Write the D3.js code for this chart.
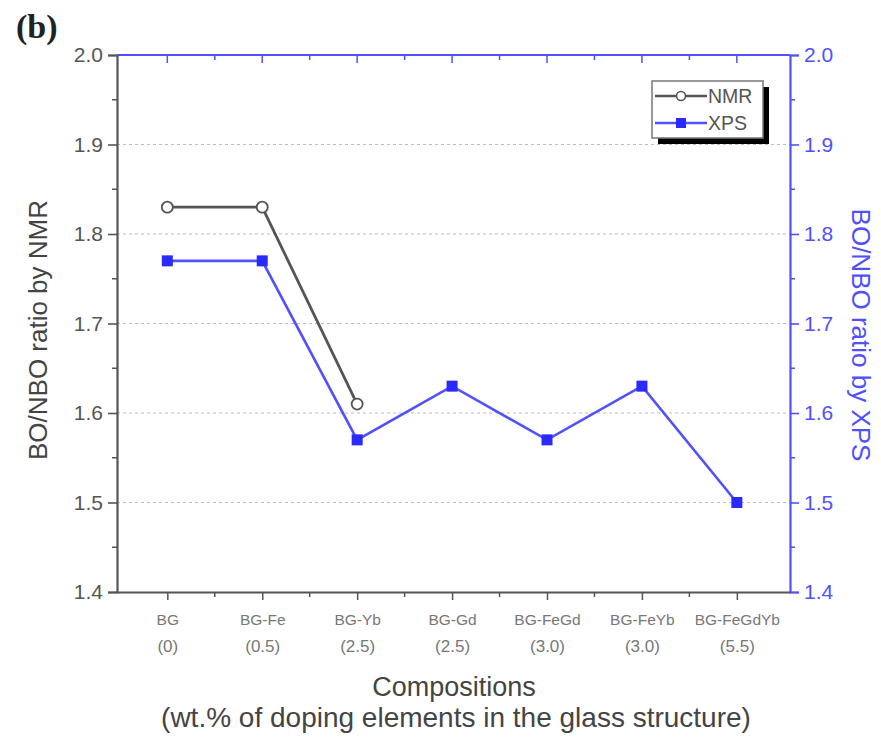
<!DOCTYPE html>
<html>
<head>
<meta charset="utf-8">
<script src="https://cdn.jsdelivr.net/npm/d3@7"></script>
<style>
  html, body { margin: 0; padding: 0; background: #fff; }
  svg { display: block; font-family: "Liberation Sans", Arial, sans-serif; }
</style>
</head>
<body>
<svg id="chart" width="881" height="740"></svg>
<script>
// Compositions and their doping content (wt.%)
const categories = ["BG", "BG-Fe", "BG-Yb", "BG-Gd", "BG-FeGd", "BG-FeYb", "BG-FeGdYb"];
const dopingLabels = ["(0)", "(0.5)", "(2.5)", "(2.5)", "(3.0)", "(3.0)", "(5.5)"];

// BO/NBO ratios
const nmrValues = [1.83, 1.83, 1.61];
const xpsValues = [1.77, 1.77, 1.57, 1.63, 1.57, 1.63, 1.50];

const yTicks = [1.4, 1.5, 1.6, 1.7, 1.8, 1.9, 2.0];
const gridValues = [1.5, 1.6, 1.7, 1.8, 1.9];

const grey = "#555";
const blue = "#5050ff";
const blueMark = "#2a2aff";

const svg = d3.select("#chart");
const plotL = 117, plotR = 790, plotT = 55, plotB = 592;

const x = d3.scaleLinear().domain([-0.53, 6.56]).range([plotL, plotR]);
const yL = d3.scaleLinear().domain([1.4, 2.0]).range([plotB, plotT]);
const yR = d3.scaleLinear().domain([1.4, 2.0]).range([plotB, plotT]);

// dotted grid
svg.append("g").selectAll("line").data(gridValues).join("line")
  .attr("x1", plotL).attr("x2", plotR)
  .attr("y1", d => yL(d)).attr("y2", d => yL(d))
  .attr("stroke", "#bbb").attr("stroke-width", 1.2)
  .attr("stroke-dasharray", "3,3");

const minorY = d3.range(1.45, 2.0, 0.1);
const majorX = d3.range(categories.length);
const minorX = d3.range(categories.length - 1).map(i => i + 0.5);

// left axis
const gL = svg.append("g").attr("transform", `translate(${plotL},0)`)
  .call(d3.axisLeft(yL).tickValues(yTicks).tickFormat(d3.format(".1f")).tickSize(9).tickPadding(5));
gL.select(".domain").attr("stroke", grey).attr("stroke-width", 2.2);
gL.selectAll(".tick line").attr("stroke", grey).attr("stroke-width", 1.6);
gL.selectAll(".tick text").attr("fill", "#555").attr("font-size", 21);
gL.append("g").selectAll("line").data(minorY).join("line")
  .attr("x1", -5).attr("x2", 0).attr("y1", d => yL(d)).attr("y2", d => yL(d))
  .attr("stroke", grey).attr("stroke-width", 1.5);

// right axis
const gR = svg.append("g").attr("transform", `translate(${plotR},0)`)
  .call(d3.axisRight(yR).tickValues(yTicks).tickFormat(d3.format(".1f")).tickSize(9).tickPadding(5));
gR.select(".domain").attr("stroke", blue).attr("stroke-width", 2.2);
gR.selectAll(".tick line").attr("stroke", blue).attr("stroke-width", 1.6);
gR.selectAll(".tick text").attr("fill", blue).attr("font-size", 21);
gR.append("g").selectAll("line").data(minorY).join("line")
  .attr("x1", 0).attr("x2", 5).attr("y1", d => yR(d)).attr("y2", d => yR(d))
  .attr("stroke", blue).attr("stroke-width", 1.5);

// top axis (blue, ticks pointing into the plot)
const gT = svg.append("g").attr("transform", `translate(0,${plotT})`);
gT.append("line").attr("x1", plotL).attr("x2", plotR).attr("y1", 0).attr("y2", 0)
  .attr("stroke", blue).attr("stroke-width", 2.2);
gT.selectAll(".maj").data(majorX).join("line").attr("class", "maj")
  .attr("x1", d => x(d)).attr("x2", d => x(d)).attr("y1", 0).attr("y2", 8)
  .attr("stroke", blue).attr("stroke-width", 1.5);
gT.selectAll(".min").data(minorX).join("line").attr("class", "min")
  .attr("x1", d => x(d)).attr("x2", d => x(d)).attr("y1", 0).attr("y2", 5)
  .attr("stroke", blue).attr("stroke-width", 1.5);

// bottom axis
const gB = svg.append("g").attr("transform", `translate(0,${plotB})`)
  .call(d3.axisBottom(x).tickValues(majorX).tickFormat(() => "").tickSize(8).tickSizeOuter(0));
gB.select(".domain").attr("stroke", grey).attr("stroke-width", 2.2);
gB.selectAll(".tick line").attr("stroke", grey).attr("stroke-width", 1.5);
gB.append("g").selectAll("line").data(minorX).join("line")
  .attr("x1", d => x(d)).attr("x2", d => x(d)).attr("y1", 0).attr("y2", 5)
  .attr("stroke", grey).attr("stroke-width", 1.5);
gB.selectAll(".tick").append("text")
  .attr("y", 33).attr("fill", "#777").attr("font-size", 15.5)
  .attr("text-anchor", "middle")
  .text(d => categories[d]);
gB.selectAll(".tick").append("text")
  .attr("y", 60).attr("fill", "#777").attr("font-size", 17)
  .attr("text-anchor", "middle")
  .text(d => dopingLabels[d]);

// lines
const lineGen = d3.line().x((d, i) => x(i)).y(d => yL(d));
svg.append("path").datum(xpsValues).attr("d", lineGen)
  .attr("fill", "none").attr("stroke", blue).attr("stroke-width", 2.6);
svg.append("path").datum(nmrValues).attr("d", lineGen)
  .attr("fill", "none").attr("stroke", grey).attr("stroke-width", 2.8);

svg.append("g").selectAll("rect").data(xpsValues).join("rect")
  .attr("x", (d, i) => x(i) - 5.5).attr("y", d => yR(d) - 5.5)
  .attr("width", 11).attr("height", 11).attr("fill", blueMark);
svg.append("g").selectAll("circle").data(nmrValues).join("circle")
  .attr("cx", (d, i) => x(i)).attr("cy", d => yL(d)).attr("r", 5.5)
  .attr("fill", "#fff").attr("stroke", grey).attr("stroke-width", 1.8);

// legend
const lg = svg.append("g").attr("transform", "translate(652,81)");
lg.append("rect").attr("x", 6).attr("y", 6).attr("width", 111).attr("height", 57).attr("fill", "#000");
lg.append("rect").attr("x", 0).attr("y", 0).attr("width", 111).attr("height", 57)
  .attr("fill", "#fff").attr("stroke", "#777").attr("stroke-width", 1.5);
lg.append("line").attr("x1", 3).attr("x2", 55).attr("y1", 15).attr("y2", 15)
  .attr("stroke", grey).attr("stroke-width", 2.4);
lg.append("circle").attr("cx", 29).attr("cy", 15).attr("r", 4.5)
  .attr("fill", "#fff").attr("stroke", grey).attr("stroke-width", 1.6);
lg.append("text").attr("x", 56).attr("y", 22).attr("font-size", 19.5).attr("fill", "#555").text("NMR");
lg.append("line").attr("x1", 3).attr("x2", 55).attr("y1", 42).attr("y2", 42)
  .attr("stroke", blue).attr("stroke-width", 2.4);
lg.append("rect").attr("x", 24).attr("y", 37).attr("width", 10).attr("height", 10).attr("fill", blueMark);
lg.append("text").attr("x", 56).attr("y", 49).attr("font-size", 19.5).attr("fill", "#555").text("XPS");

// axis titles
svg.append("text").attr("transform", "translate(47,330) rotate(-90)")
  .attr("text-anchor", "middle").attr("font-size", 26).attr("fill", "#444")
  .text("BO/NBO ratio by NMR");
svg.append("text").attr("transform", "translate(852,335) rotate(90)")
  .attr("text-anchor", "middle").attr("font-size", 26).attr("fill", blue)
  .text("BO/NBO ratio by XPS");
svg.append("text").attr("x", 454).attr("y", 696)
  .attr("text-anchor", "middle").attr("font-size", 27).attr("fill", "#444")
  .text("Compositions");
svg.append("text").attr("x", 456).attr("y", 727)
  .attr("text-anchor", "middle").attr("font-size", 28).attr("fill", "#444")
  .text("(wt.% of doping elements in the glass structure)");

// panel label
svg.append("text").attr("x", 16).attr("y", 38)
  .attr("font-family", "'Liberation Serif', 'Times New Roman', serif")
  .attr("font-weight", "bold").attr("font-size", 34).attr("fill", "#222")
  .text("(b)");
</script>
</body>
</html>
